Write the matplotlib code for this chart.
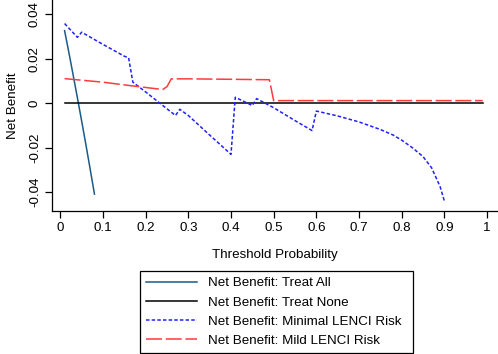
import matplotlib
matplotlib.use("Agg")
import matplotlib.pyplot as plt

plt.rcParams['font.family'] = ['Liberation Sans', 'DejaVu Sans']

# Threshold probabilities and net benefit values
all_x = [0.01, 0.02, 0.03, 0.04, 0.05, 0.06, 0.07, 0.08]
all_y = [0.0327, 0.0229, 0.0128, 0.0025, -0.0080, -0.0187, -0.0297, -0.0409]

none_x = [0.01, 0.99]
none_y = [0.0, 0.0]

minimal_x = [0.01, 0.04, 0.05, 0.10, 0.15, 0.16, 0.17, 0.20, 0.25, 0.27, 0.28, 0.30,
             0.35, 0.40, 0.41, 0.45, 0.46, 0.50, 0.55, 0.59, 0.60, 0.65, 0.70, 0.75,
             0.78, 0.80, 0.825, 0.85, 0.87, 0.89, 0.90]
minimal_y = [0.0359, 0.0297, 0.0320, 0.0265, 0.0212, 0.0205, 0.0095, 0.0051, -0.0025,
             -0.0055, -0.0027, -0.0055, -0.0143, -0.0230, 0.0027, -0.0010, 0.0021,
             -0.0020, -0.0078, -0.0123, -0.0035, -0.0057, -0.0084, -0.0118, -0.0143,
             -0.0166, -0.0200, -0.0240, -0.0290, -0.0375, -0.0440]

mild_x = [0.01, 0.10, 0.17, 0.24, 0.25, 0.26, 0.30, 0.40, 0.49, 0.50, 0.60, 0.99]
mild_y = [0.0111, 0.0095, 0.0078, 0.0062, 0.0075, 0.0110, 0.0110, 0.0108, 0.0106,
          0.0012, 0.0012, 0.0012]

labels = ["Net Benefit: Treat All", "Net Benefit: Treat None",
          "Net Benefit: Minimal LENCI Risk", "Net Benefit: Mild LENCI Risk"]

x_ticks = [0, 0.1, 0.2, 0.3, 0.4, 0.5, 0.6, 0.7, 0.8, 0.9, 1]
x_ticklabels = ["0", "0.1", "0.2", "0.3", "0.4", "0.5", "0.6", "0.7", "0.8", "0.9", "1"]
y_ticks = [-0.04, -0.02, 0, 0.02, 0.04]
y_ticklabels = ["-0.04", "-0.02", "0", "0.02", "0.04"]

FS = 9.6
LW = 1.1

fig = plt.figure(figsize=(4.98, 3.54), dpi=100)
ax = fig.add_axes([52/498, 1 - 211/354, (497-52)/498, 211/354])

ax.plot(all_x, all_y, color='#1a5a8a', lw=LW, label=labels[0])
ax.plot(none_x, none_y, color='black', lw=LW, label=labels[1])
ax.plot(minimal_x, minimal_y, color='#2020ff', lw=LW, linestyle=(0, (2.3, 1.4)), label=labels[2])
ax.plot(mild_x, mild_y, color='#ff3b3b', lw=LW, linestyle=(0, (10.5, 2.4)), label=labels[3])

ax.set_xlim(-0.0195, 1.0234)
ax.set_ylim(-0.0485, 0.0465)
ax.set_xticks(x_ticks)
ax.set_xticklabels(x_ticklabels)
ax.set_yticks(y_ticks)
ax.set_yticklabels(y_ticklabels, rotation=90, va='center')
ax.tick_params(axis='both', labelsize=FS, length=5, width=0.9, direction='out', pad=3)
for s in ['top', 'right']:
    ax.spines[s].set_visible(False)
for s in ['left', 'bottom']:
    ax.spines[s].set_linewidth(0.9)

ax.set_xlabel("Threshold Probability", fontsize=FS, labelpad=11)
ax.set_ylabel("Net Benefit", fontsize=FS, labelpad=7)

handles, lbls = ax.get_legend_handles_labels()
leg = fig.legend(handles, lbls, loc='upper left',
                 bbox_to_anchor=(140/498, 1 - 271/354, 273/498, 0.0),
                 mode='expand', fontsize=FS, handlelength=3.85, labelspacing=0.52,
                 borderpad=0.45, borderaxespad=0.0, handletextpad=0.8, frameon=True,
                 fancybox=False, edgecolor='black', framealpha=1)
leg.get_frame().set_linewidth(0.9)

fig.savefig("out.png", dpi=100)
